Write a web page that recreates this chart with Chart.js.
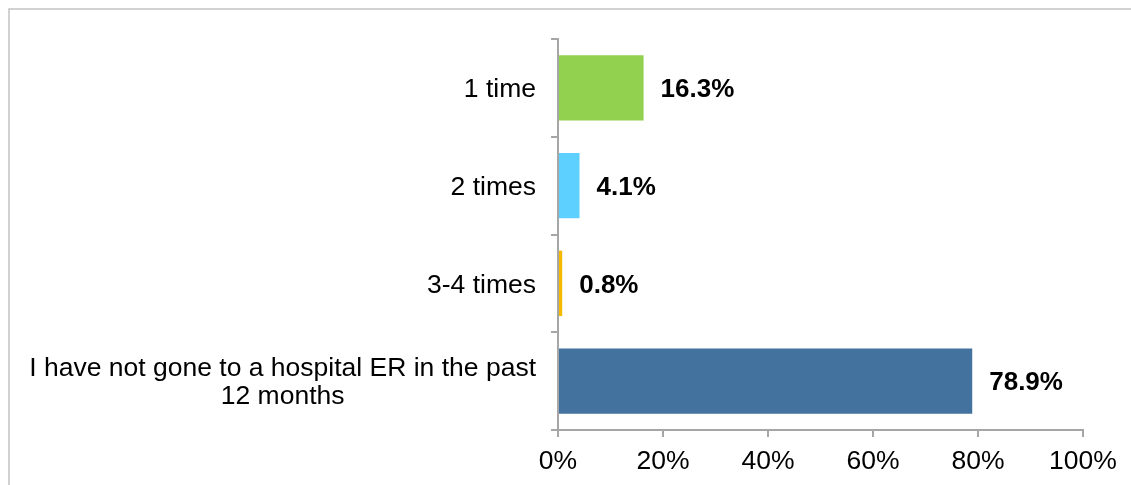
<!DOCTYPE html>
<html>
<head>
<meta charset="utf-8">
<script src="https://cdn.jsdelivr.net/npm/chart.js@4/dist/chart.umd.min.js"></script>
<style>
  html, body { margin: 0; padding: 0; background: #ffffff; }
  #wrap { width: 1131px; height: 485px; position: relative; }
</style>
</head>
<body>
<div id="wrap"><canvas id="c" width="1131" height="485"></canvas></div>
<script>
// Survey answers: hospital ER visits in the past 12 months
const categories = [
  ['1 time'],
  ['2 times'],
  ['3-4 times'],
  ['I have not gone to a hospital ER in the past', '12 months']
];
const shares = [16.3, 4.1, 0.8, 78.9];
const barColors = ['#92D050', '#5DD0FF', '#F5BA00', '#43729E'];
const xTicks = [0, 20, 40, 60, 80, 100];

const FONT = '"Liberation Sans", Arial, Helvetica, sans-serif';

// Light frame along the top and left edges
const framePlugin = {
  id: 'frame',
  beforeDraw(chart) {
    const ctx = chart.ctx;
    ctx.save();
    ctx.fillStyle = '#ffffff';
    ctx.fillRect(0, 0, chart.width, chart.height);
    ctx.lineWidth = 1.5;
    ctx.strokeStyle = '#c4c4c4';
    ctx.beginPath();
    ctx.moveTo(9, chart.height);
    ctx.lineTo(9, 9);
    ctx.lineTo(chart.width, 9);
    ctx.stroke();
    ctx.restore();
  }
};

// Category labels: each block right-aligned to the axis, lines centered within the block
const categoryLabelPlugin = {
  id: 'categoryLabels',
  afterDraw(chart) {
    const ctx = chart.ctx;
    const y = chart.scales.y;
    const right = y.right - 22;
    const lineH = 28;
    ctx.save();
    ctx.font = '26.5px ' + FONT;
    ctx.fillStyle = '#000000';
    ctx.textAlign = 'center';
    ctx.textBaseline = 'middle';
    categories.forEach((lines, i) => {
      const yc = y.getPixelForValue(i) + 2;
      const w = Math.max(...lines.map(l => ctx.measureText(l).width));
      const cx = right - w / 2;
      const y0 = yc - (lines.length - 1) * lineH / 2;
      lines.forEach((l, k) => ctx.fillText(l, cx, y0 + k * lineH));
    });
    ctx.restore();
  }
};

// Value labels to the right of each bar
const valueLabelPlugin = {
  id: 'valueLabels',
  afterDatasetsDraw(chart) {
    const ctx = chart.ctx;
    const meta = chart.getDatasetMeta(0);
    ctx.save();
    ctx.font = 'bold 26px ' + FONT;
    ctx.fillStyle = '#000000';
    ctx.textAlign = 'left';
    ctx.textBaseline = 'middle';
    meta.data.forEach((bar, i) => {
      ctx.fillText(shares[i].toFixed(1) + '%', bar.x + 17, bar.y + 2);
    });
    ctx.restore();
  }
};

new Chart(document.getElementById('c'), {
  type: 'bar',
  data: {
    labels: categories.map(c => c.join(' ')),
    datasets: [{
      data: shares,
      backgroundColor: barColors,
      borderWidth: 0,
      barPercentage: 0.67,
      categoryPercentage: 1.0
    }]
  },
  options: {
    indexAxis: 'y',
    responsive: false,
    animation: false,
    devicePixelRatio: 1,
    layout: { padding: { left: 0, right: 48, top: 39, bottom: 0 } },
    plugins: {
      legend: { display: false },
      tooltip: { enabled: false },
      title: { display: false }
    },
    scales: {
      x: {
        min: 0,
        max: 100,
        afterBuildTicks(scale) {
          scale.ticks = xTicks.map(v => ({ value: v }));
        },
        afterFit(scale) { scale.height = 55; },
        border: { display: true, color: '#a6a6a6', width: 2 },
        grid: {
          display: true,
          drawOnChartArea: false,
          drawTicks: true,
          tickLength: 7,
          color: '#a6a6a6',
          lineWidth: 2
        },
        ticks: {
          padding: 9,
          color: '#000000',
          font: { family: FONT, size: 26.5 },
          callback: v => v + '%',
          maxRotation: 0,
          autoSkip: false
        }
      },
      y: {
        afterFit(scale) { scale.width = 558; },
        border: { display: true, color: '#a6a6a6', width: 2 },
        grid: {
          display: true,
          offset: true,
          drawOnChartArea: false,
          drawTicks: true,
          tickLength: 7,
          color: '#a6a6a6',
          lineWidth: 2
        },
        ticks: {
          display: false
        }
      }
    }
  },
  plugins: [framePlugin, categoryLabelPlugin, valueLabelPlugin]
});
</script>
</body>
</html>
